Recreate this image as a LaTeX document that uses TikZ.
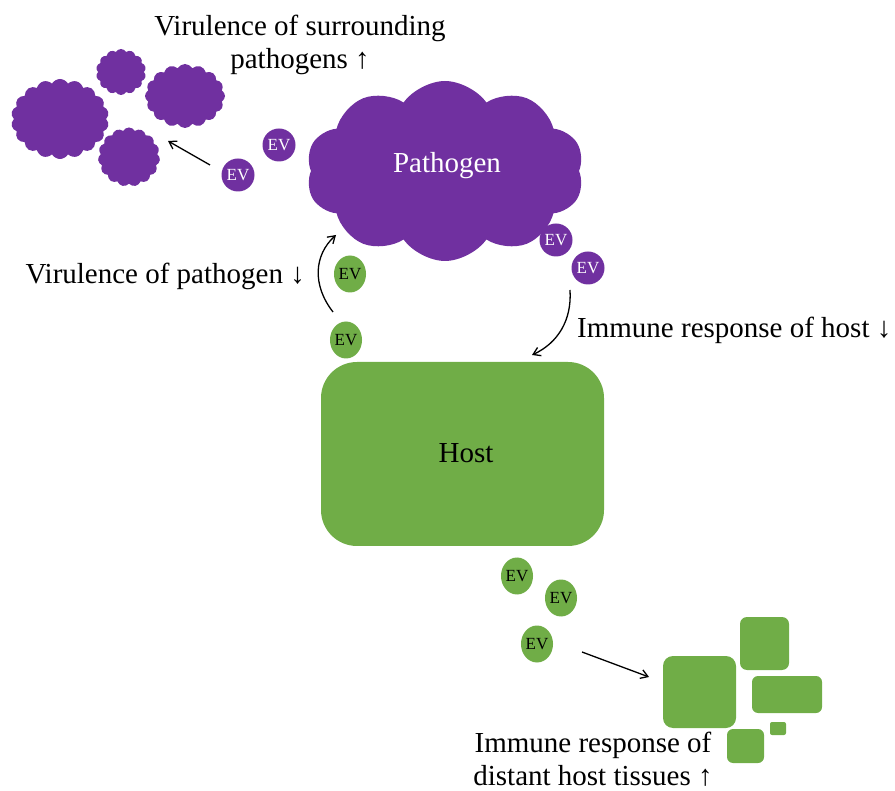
\documentclass[tikz,border=0pt]{standalone}
\usepackage{fontspec}
\setmainfont{Liberation Serif}
\usetikzlibrary{shapes.symbols,shapes.geometric,arrows.meta}
\definecolor{pur}{HTML}{7030A0}
\definecolor{grn}{HTML}{70AD47}
\begin{document}
\begin{tikzpicture}[x=1pt,y=-1pt,
  pcloud/.style={cloud, cloud puffs=#1, cloud puff arc=120, fill=pur, draw=none, inner sep=0pt},
  evbase/.style={ellipse, inner sep=0pt, font=\fontsize{17}{19}\selectfont},
  evp/.style={evbase, fill=pur, text=white, minimum width=33pt, minimum height=33pt},
  evg/.style={evbase, fill=grn, text=black, minimum width=32pt, minimum height=37pt},
  tissue/.style={fill=grn, rounded corners=#1},
  lbl/.style={font=\fontsize{29}{33}\selectfont, align=center, inner sep=0pt},
  arr/.style={-{Straight Barb[length=7pt,width=9pt]}, line width=1.3pt}
]
\useasboundingbox (0,0) rectangle (895,791);
% pathogen
\node[pcloud=10, cloud puff arc=110, minimum width=278pt, minimum height=180pt] (path) at (445,171) {};
\node[lbl, text=white] (pathlbl) at (447,166) {Pathogen};
% surrounding pathogens
\node[pcloud=18, minimum width=98pt, minimum height=80pt] (c1) at (60,119) {};
\node[pcloud=14, minimum width=50pt, minimum height=46pt] (c2) at (121,72) {};
\node[pcloud=16, minimum width=80pt, minimum height=64pt] (c3) at (185,96) {};
\node[pcloud=15, minimum width=62pt, minimum height=59pt] (c4) at (129,157) {};
% purple EVs
\node[evp] (ep1) at (279,145) {EV};
\node[evp] (ep2) at (238,175) {EV};
\node[evp] (ep3) at (556,240) {EV};
\node[evp] (ep4) at (588,268) {EV};
% host
\node[fill=grn, rounded corners=36pt, minimum width=283pt, minimum height=184pt, inner sep=0pt] (host) at (462.5,454) {};
\node[lbl] (hostlbl) at (466,453) {Host};
% green EVs
\node[evg] (eg1) at (350,274) {EV};
\node[evg] (eg2) at (346,340) {EV};
\node[evg] (eg3) at (517,576) {EV};
\node[evg] (eg4) at (561,598) {EV};
\node[evg] (eg5) at (537,644) {EV};
% distant tissues
\fill[tissue=10pt] (663,656) rectangle (736,728);
\fill[tissue=7pt] (740,617) rectangle (789,670);
\fill[tissue=6pt] (752,676) rectangle (822,713);
\fill[tissue=2pt] (770,722) rectangle (786,735);
\fill[tissue=6pt] (727,729) rectangle (764,763);
\coordinate (tis) at (649,677);
% labels
\node[lbl] (l1) at (300,45) {Virulence of surrounding\\pathogens ↑};
\node[lbl, anchor=east] (l2) at (305,276) {Virulence of pathogen ↓};
\node[lbl, anchor=west] (l3) at (577,330) {Immune response of host ↓};
\node[lbl] (l4) at (593,759) {Immune response of\\distant host tissues ↑};
% arrows
\coordinate (a1s) at (210,165);
\coordinate (a1e) at (168,141);
\draw[arr] (a1s) -- (a1e);
\coordinate (a2s) at (333,312);
\coordinate (a2e) at (336,235);
\draw[arr] (a2s) .. controls (312,285) and (314,255) .. (a2e);
\coordinate (a3s) at (570,290);
\coordinate (a3e) at (532,355);
\draw[arr] (a3s) .. controls (572,320) and (558,343) .. (a3e);
\coordinate (a4s) at (582,652);
\draw[arr] (a4s) -- (tis);
\end{tikzpicture}
\end{document}
